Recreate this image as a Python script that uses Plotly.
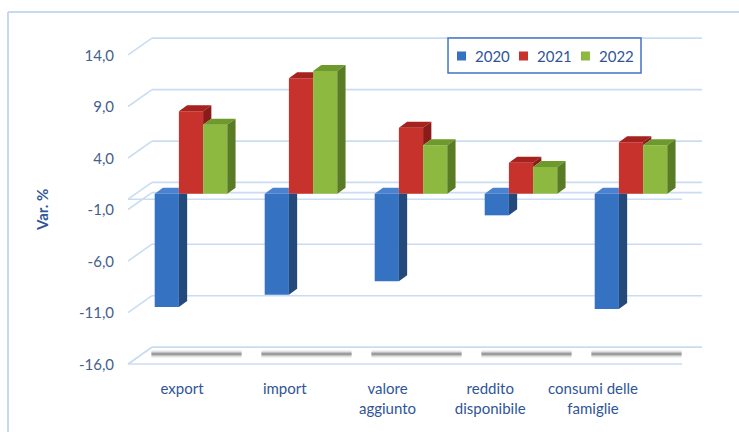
import plotly.graph_objects as go

# --- data -------------------------------------------------------------------
categories = ["export", "import", "valore<br>aggiunto", "reddito<br>disponibile",
              "consumi delle<br>famiglie"]
years = ["2020", "2021", "2022"]
v2020 = [-11.0, -9.8, -8.5, -2.1, -11.2]
v2021 = [8.0, 11.2, 6.4, 3.0, 5.0]
v2022 = [6.7, 11.9, 4.7, 2.6, 4.7]
y_ticks = [-16, -11, -6, -1, 4, 9, 14]
y_ticktext = [f"{v:.1f}".replace(".", ",") for v in y_ticks]

series = [v2020, v2021, v2022]
front_colors = ["#3572C2", "#C8322D", "#8DB941"]
top_colors = ["#4A82CF", "#A5221E", "#6E9A2D"]
side_colors = ["#244A7C", "#8A1B18", "#597B24"]

# --- geometry of the oblique 3D look ------------------------------------------
Y_MIN, Y_MAX = -17.5, 15.5
BARGAP = 0.34
W = (1 - BARGAP) / 3          # width of one bar in category units
DX, DY = 0.075, 0.58          # depth offset of the bar faces (x units, y units)
idx = list(range(len(categories)))

fig = go.Figure()


def add_poly(polys, color):
    xs, ys = [], []
    for p in polys:
        for (a, b) in p:
            xs.append(a)
            ys.append(b)
        xs.append(p[0][0])
        ys.append(p[0][1])
        xs.append(None)
        ys.append(None)
    fig.add_trace(go.Scatter(x=xs, y=ys, fill="toself", fillcolor=color,
                             mode="lines", line=dict(width=0, color=color),
                             hoverinfo="skip", showlegend=False))


for s, vals in enumerate(series):
    fig.add_trace(go.Bar(x=idx, y=vals, name=years[s], showlegend=False,
                         marker=dict(color=front_colors[s], line=dict(width=0))))

for s, vals in enumerate(series):
    tops, sides = [], []
    for i, v in enumerate(vals):
        xl = i - 1.5 * W + s * W
        xr = xl + W
        nxt = series[s + 1][i] if s + 1 < len(series) else None
        level = max(v, 0)
        # top face (clipped where the next bar's front hides it)
        if nxt is not None and nxt >= level:
            tops.append([(xl, level), (xl + DX, level + DY), (xr, level + DY), (xr, level)])
        else:
            tops.append([(xl, level), (xl + DX, level + DY),
                         (xr + DX, level + DY), (xr, level)])
        # side face
        if v < 0:
            if nxt is not None:
                sides.append([(xr, v), (xr, 0), (xr + DX, 0), (xr + DX, v + DY)])
            else:
                sides.append([(xr, v), (xr, 0), (xr + DX, DY), (xr + DX, v + DY)])
        else:
            low = 0 if nxt is None else max(nxt, 0)
            if low < v:
                sides.append([(xr, low), (xr, v), (xr + DX, v + DY), (xr + DX, low + DY)])
    add_poly(tops, top_colors[s])
    add_poly(sides, side_colors[s])

# category labels on the front edge of the floor
fig.add_trace(go.Scatter(x=idx, y=[0] * len(idx), xaxis="x2", mode="markers",
                         marker=dict(opacity=0), hoverinfo="skip", showlegend=False))

# --- walls, floor and gridlines ------------------------------------------------
GRID = "#CADCF2"
FX, BX = -0.0145, 0.0291        # front / back left edge (paper)
BXR, FXR = 1.029, 0.993         # back / front right edge (paper)
FRONT, BACK = -0.535, 1.1       # y offsets of front and back edges
shapes = []


def seg(x0, y0, x1, y1, color=GRID, width=1.6):
    shapes.append(dict(type="line", xref="paper", yref="y", x0=x0, y0=y0, x1=x1, y1=y1,
                       line=dict(color=color, width=width), layer="below"))


for v in y_ticks:
    seg(FX, v + FRONT, BX, v + BACK)
    seg(BX, v + BACK, BXR, v + BACK)
for v in (0, y_ticks[0]):
    seg(FX, v + FRONT, BX, v + BACK)
    seg(BX, v + BACK, BXR, v + BACK)
    seg(FX, v + FRONT, FXR, v + FRONT)

# soft shadows of the columns on the floor
for i in idx:
    for width, color in ((7, "rgba(185,185,185,0.4)"), (3, "rgba(125,125,125,0.7)")):
        shapes.append(dict(type="line", xref="x", yref="y",
                           x0=i + 0.05 - 0.41, x1=i + 0.05 + 0.41,
                           y0=y_ticks[0] + 0.44, y1=y_ticks[0] + 0.44,
                           line=dict(color=color, width=width), layer="below"))

# chart frame
FRAME = "#C6D9F0"
shapes.append(dict(type="line", xref="paper", yref="paper", x0=-0.2327, x1=-0.2327,
                   y0=-0.3, y1=1.0647, line=dict(color=FRAME, width=2)))
shapes.append(dict(type="line", xref="paper", yref="paper", x0=-0.2327, x1=1.2,
                   y0=1.0647, y1=1.0647, line=dict(color=FRAME, width=2)))

# legend box with a colour key for each year
LEG_X0, LEG_X1, LEG_Y0, LEG_Y1 = 0.5673, 0.9182, 0.8853, 0.9882
LEG_STEP = 0.1127               # spacing of the legend entries (paper)
KEY_X, KEY_W, KEY_H, KEY_Y = 0.5918, 0.0164, 0.0265, 0.9353
annotations = [dict(text="<b>Var. %</b>", xref="paper", yref="paper",
                    x=-0.171, y=0.482, xanchor="center", yanchor="middle",
                    textangle=-90, showarrow=False,
                    font=dict(size=15, color="#2F5597"))]
shapes.append(dict(type="rect", xref="paper", yref="paper", x0=LEG_X0, x1=LEG_X1,
                   y0=LEG_Y0, y1=LEG_Y1, line=dict(color="#4472C4", width=1.5),
                   fillcolor="white"))
for k, name in enumerate(years):
    cx = KEY_X + k * LEG_STEP
    shapes.append(dict(type="rect", xref="paper", yref="paper",
                       x0=cx - KEY_W / 2, x1=cx + KEY_W / 2,
                       y0=KEY_Y - KEY_H / 2, y1=KEY_Y + KEY_H / 2,
                       line=dict(width=0), fillcolor=front_colors[k]))
    annotations.append(dict(text=name, xref="paper", yref="paper",
                            x=cx + 0.0215, y=KEY_Y, xanchor="left", yanchor="middle",
                            showarrow=False, font=dict(size=15, color="#2F5597")))

FONT = "Lato, 'Liberation Sans', Arial, sans-serif"
fig.update_layout(
    width=739, height=432,
    margin=dict(l=136, r=53, t=34, b=58, autoexpand=False),
    paper_bgcolor="white", plot_bgcolor="white",
    barmode="group", bargap=BARGAP, bargroupgap=0,
    font=dict(family=FONT, size=15, color="#3A5A8C"),
    showlegend=False,
    xaxis=dict(range=[-0.5, 4.5], showticklabels=False, showgrid=False,
               zeroline=False, showline=False, ticks="", fixedrange=True),
    xaxis2=dict(overlaying="x", anchor="y", side="bottom", range=[-0.4477, 4.905],
                tickvals=idx, ticktext=categories, showgrid=False, zeroline=False,
                showline=False, ticks="", tickfont=dict(size=15, color="#2F5597"),
                ticklabelstandoff=4, fixedrange=True),
    yaxis=dict(range=[Y_MIN, Y_MAX], tickvals=y_ticks, ticktext=y_ticktext,
               showgrid=False, zeroline=False, showline=False, ticks="",
               tickfont=dict(size=15, color="#44608F"), ticklabelshift=6,
               ticklabelstandoff=21, fixedrange=True),
    shapes=shapes,
    annotations=annotations,
)

fig.write_html("out.html")
